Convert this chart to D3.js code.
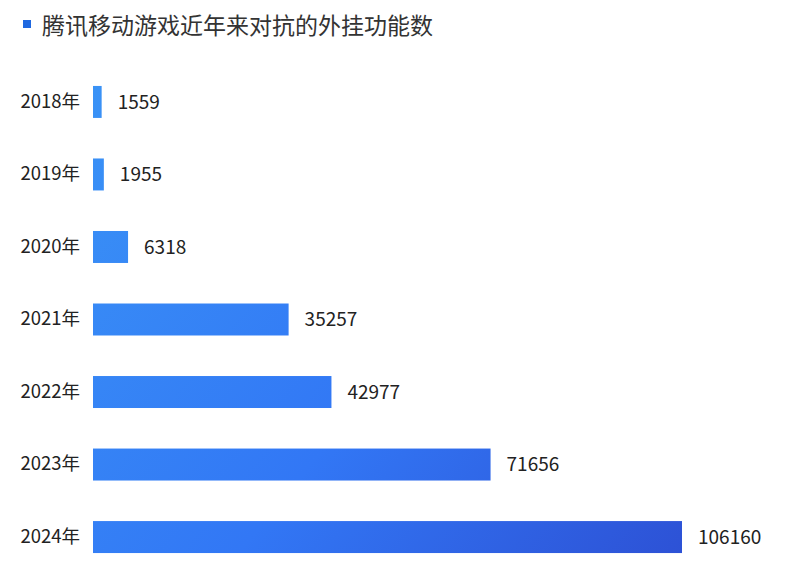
<!DOCTYPE html>
<html>
<head>
<meta charset="utf-8">
<script src="https://cdn.jsdelivr.net/npm/d3@7"></script>
<style>
  body { margin: 0; background: #fff; }
  text { font-family: "Noto Sans CJK SC", "Noto Sans", sans-serif; }
</style>
</head>
<body>
<svg id="chart" width="800" height="571"></svg>
<script>
// data
var years = ["2018年", "2019年", "2020年", "2021年", "2022年", "2023年", "2024年"];
var counts = [1559, 1955, 6318, 35257, 42977, 71656, 106160];
var title = "腾讯移动游戏近年来对抗的外挂功能数";

var data = years.map(function(y, i) { return {year: y, count: counts[i]}; });

var svg = d3.select("#chart"),
    margin = {top: 70, right: 118, left: 93},
    width = +svg.attr("width") - margin.left - margin.right;

// title with little blue square
svg.append("rect")
    .attr("x", 23).attr("y", 20)
    .attr("width", 8).attr("height", 8)
    .attr("fill", "#1f68e0");
svg.append("text")
    .attr("x", 42).attr("y", 34)
    .attr("font-size", 23)
    .attr("fill", "#333")
    .text(title);

var g = svg.append("g").attr("transform", "translate(" + margin.left + "," + margin.top + ")");

var x = d3.scaleLinear()
    .domain([0, d3.max(counts)])
    .range([0, width]);

var y = d3.scaleBand()
    .domain(years)
    .range([0, 499])
    .paddingInner(0.559)
    .paddingOuter(0.22);

// one gradient across the whole plot, light top-left to dark bottom-right
var grad = svg.append("defs").append("linearGradient")
    .attr("id", "barGrad")
    .attr("gradientUnits", "userSpaceOnUse")
    .attr("x1", 0).attr("y1", 0)
    .attr("x2", width).attr("y2", 480);
grad.append("stop").attr("offset", "0%").attr("stop-color", "#3a93f6");
grad.append("stop").attr("offset", "55%").attr("stop-color", "#3277f5");
grad.append("stop").attr("offset", "100%").attr("stop-color", "#2d52d6");

g.selectAll(".bar")
    .data(data)
  .enter().append("rect")
    .attr("class", "bar")
    .attr("x", 0)
    .attr("y", function(d) { return y(d.year); })
    .attr("width", function(d) { return Math.max(8, x(d.count)); })
    .attr("height", y.bandwidth())
    .attr("fill", "url(#barGrad)");

// value labels
g.selectAll(".val")
    .data(data)
  .enter().append("text")
    .attr("class", "val")
    .attr("x", function(d) { return Math.max(8, x(d.count)) + 16; })
    .attr("y", function(d) { return y(d.year) + y.bandwidth() / 2; })
    .attr("dy", "0.35em")
    .attr("font-size", 19)
    .attr("fill", "#222")
    .text(function(d) { return d.count; });

// year axis, no line or ticks
g.append("g")
    .call(d3.axisLeft(y).tickSize(0).tickPadding(13))
    .call(function(a) { a.select(".domain").remove(); })
    .selectAll("text")
    .attr("font-size", 18.5)
    .attr("fill", "#222")
    .style("font-family", "'Noto Sans CJK SC', sans-serif");
</script>
</body>
</html>
